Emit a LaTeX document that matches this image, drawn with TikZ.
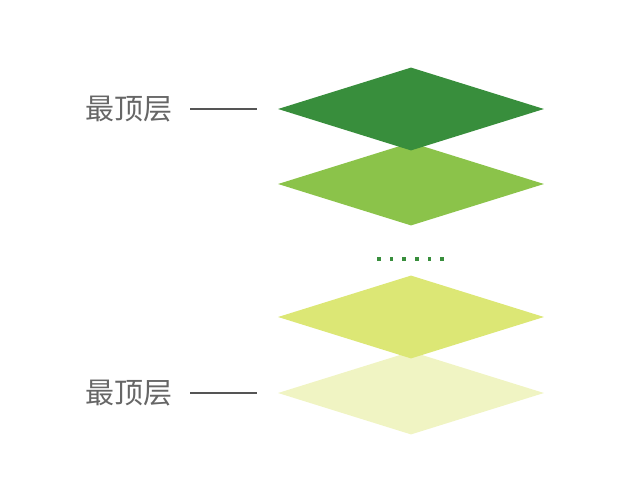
\documentclass[tikz,border=0pt]{standalone}
\usepackage{fontspec}
\newfontfamily\cjk{Noto Sans CJK SC}
\usetikzlibrary{shapes.geometric}
\definecolor{dgreen}{HTML}{388E3C}
\definecolor{lgreen}{HTML}{8BC34A}
\definecolor{ygreen}{HTML}{DCE775}
\definecolor{pgreen}{HTML}{F0F4C3}
\definecolor{txtgray}{HTML}{666666}
\definecolor{linegray}{HTML}{555555}
\begin{document}
\begin{tikzpicture}[x=1pt,y=-1pt,
  layer/.style={diamond,draw=none,inner sep=0pt,minimum width=266pt,minimum height=83pt},
  lbl/.style={font=\cjk\fontsize{29}{32}\selectfont,text=txtgray,inner sep=0pt,anchor=center},
  leader/.style={draw=linegray,line width=1.6pt},
  dotmark/.style={fill=dgreen,minimum size=3.6pt,inner sep=0pt,draw=none}]
\useasboundingbox (0,0) rectangle (642,486);
\node[layer,fill=pgreen] (l4) at (411,393) {};
\node[layer,fill=ygreen] (l3) at (411,317) {};
\node[layer,fill=lgreen] (l2) at (411,184) {};
\node[layer,fill=dgreen] (l1) at (411,109) {};
\node[lbl] (t1) at (128.5,109) {最顶层};
\node[lbl] (t2) at (128.5,393) {最顶层};
\coordinate (a1) at (190,109); \coordinate (b1) at (257,109);
\coordinate (a2) at (190,393); \coordinate (b2) at (257,393);
\draw[leader] (a1) -- (b1);
\draw[leader] (a2) -- (b2);
\foreach \i in {0,...,5} {\node[dotmark] (d\i) at (379+12.6*\i,259) {};}
\end{tikzpicture}
\end{document}
